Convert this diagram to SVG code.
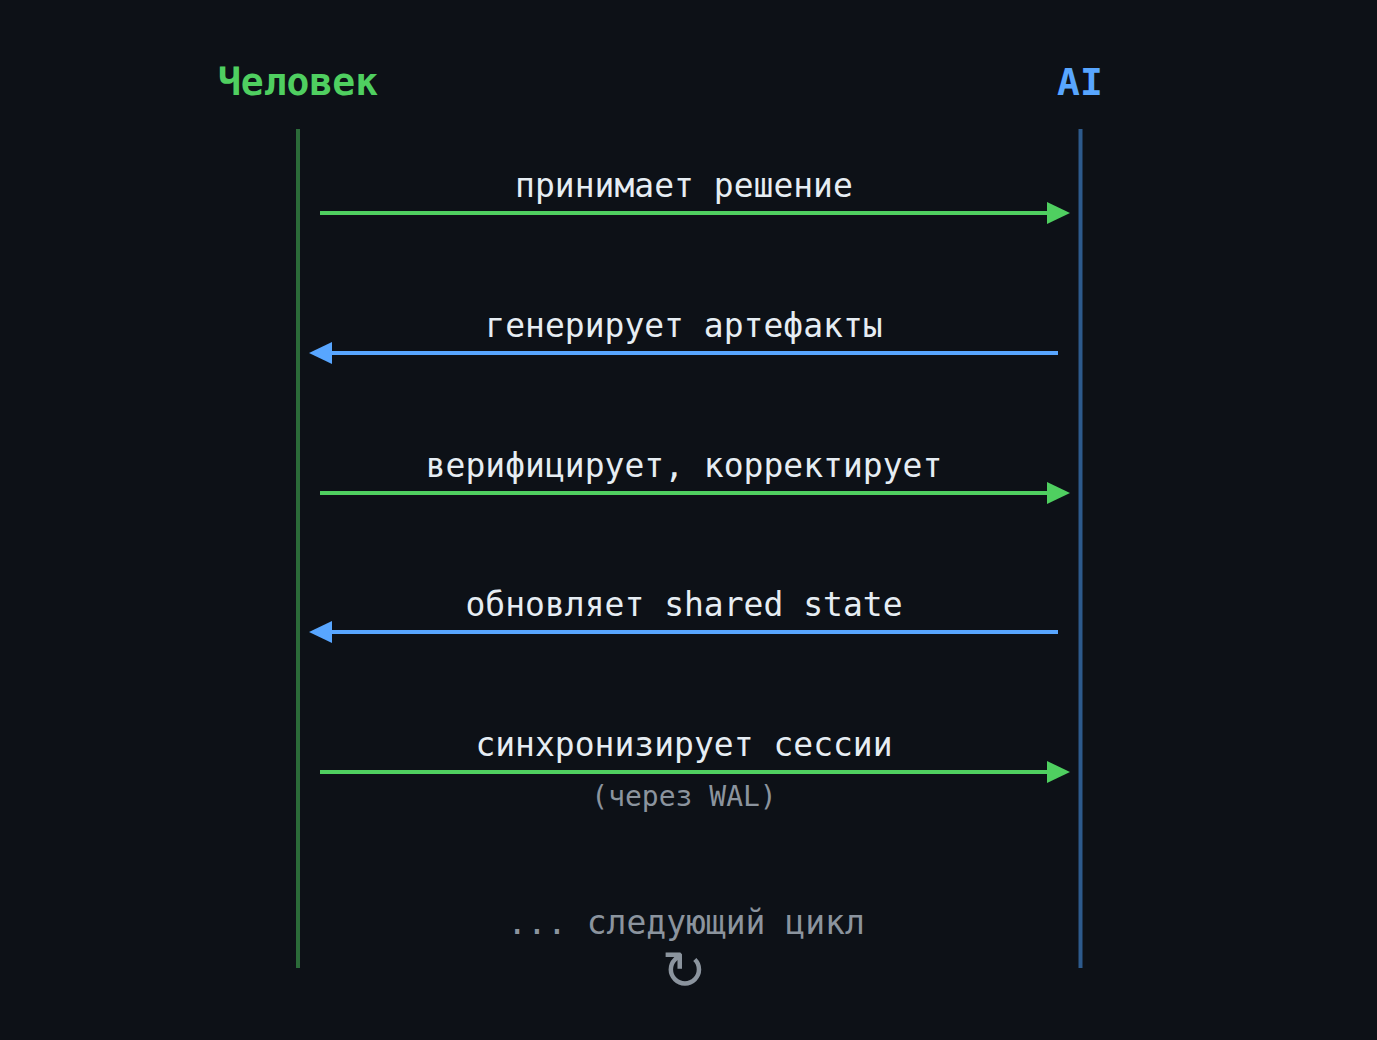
<svg xmlns="http://www.w3.org/2000/svg" width="1377" height="1040" viewBox="0 0 1377 1040">
<style>
.bg{fill:#0d1117}
.hdr{font-family:"DejaVu Sans Mono","Liberation Mono",monospace;font-weight:bold;font-size:38px;text-anchor:middle}
.lbl{font-family:"DejaVu Sans Mono","Liberation Mono",monospace;font-size:33px;fill:#e6edf3;text-anchor:middle}
.sub{font-family:"DejaVu Sans Mono","Liberation Mono",monospace;font-size:28px;fill:#8b949e;text-anchor:middle}
.next{font-family:"DejaVu Sans Mono","Liberation Mono",monospace;font-size:33px;fill:#8b949e;text-anchor:middle}
.cyc{font-family:"DejaVu Sans","Noto Sans",sans-serif;font-size:54px;fill:#8b949e;text-anchor:middle}
.g{stroke:#4fcf60;stroke-width:4;fill:none}
.b{stroke:#58a6ff;stroke-width:4;fill:none}
.gh{fill:#4fcf60}
.bh{fill:#58a6ff}
</style>
<rect class="bg" x="0" y="0" width="1377" height="1040"/>
<g id="human">
<text class="hdr" x="298" y="95" fill="#4fcf60">Человек</text>
<line x1="298" y1="129" x2="298" y2="968" stroke="#2b6b39" stroke-width="4"/>
</g>
<g id="ai">
<text class="hdr" x="1080" y="95" fill="#58a6ff">AI</text>
<line x1="1080.5" y1="129" x2="1080.5" y2="968" stroke="#2d5a8c" stroke-width="4"/>
</g>
<g id="connectors">
<g id="m1">
<line class="g" x1="320" y1="213" x2="1048" y2="213"/>
<polygon class="gh" points="1047,202 1070,213 1047,224"/>
<text class="lbl" x="684" y="197">принимает решение</text>
</g>
<g id="m2">
<line class="b" x1="331" y1="353" x2="1058" y2="353"/>
<polygon class="bh" points="332,342 309,353 332,364"/>
<text class="lbl" x="684" y="337">генерирует артефакты</text>
</g>
<g id="m3">
<line class="g" x1="320" y1="493" x2="1048" y2="493"/>
<polygon class="gh" points="1047,482 1070,493 1047,504"/>
<text class="lbl" x="684" y="477">верифицирует, корректирует</text>
</g>
<g id="m4">
<line class="b" x1="331" y1="632" x2="1058" y2="632"/>
<polygon class="bh" points="332,621 309,632 332,643"/>
<text class="lbl" x="684" y="616">обновляет shared state</text>
</g>
<g id="m5">
<line class="g" x1="320" y1="772" x2="1048" y2="772"/>
<polygon class="gh" points="1047,761 1070,772 1047,783"/>
<text class="lbl" x="684" y="756">синхронизирует сессии</text>
<text class="sub" x="684" y="806">(через WAL)</text>
</g>
</g>
<g id="next-cycle">
<text class="next" x="686" y="934">... следующий цикл</text>
<text class="cyc" x="684" y="989">↻</text>
</g>
</svg>
